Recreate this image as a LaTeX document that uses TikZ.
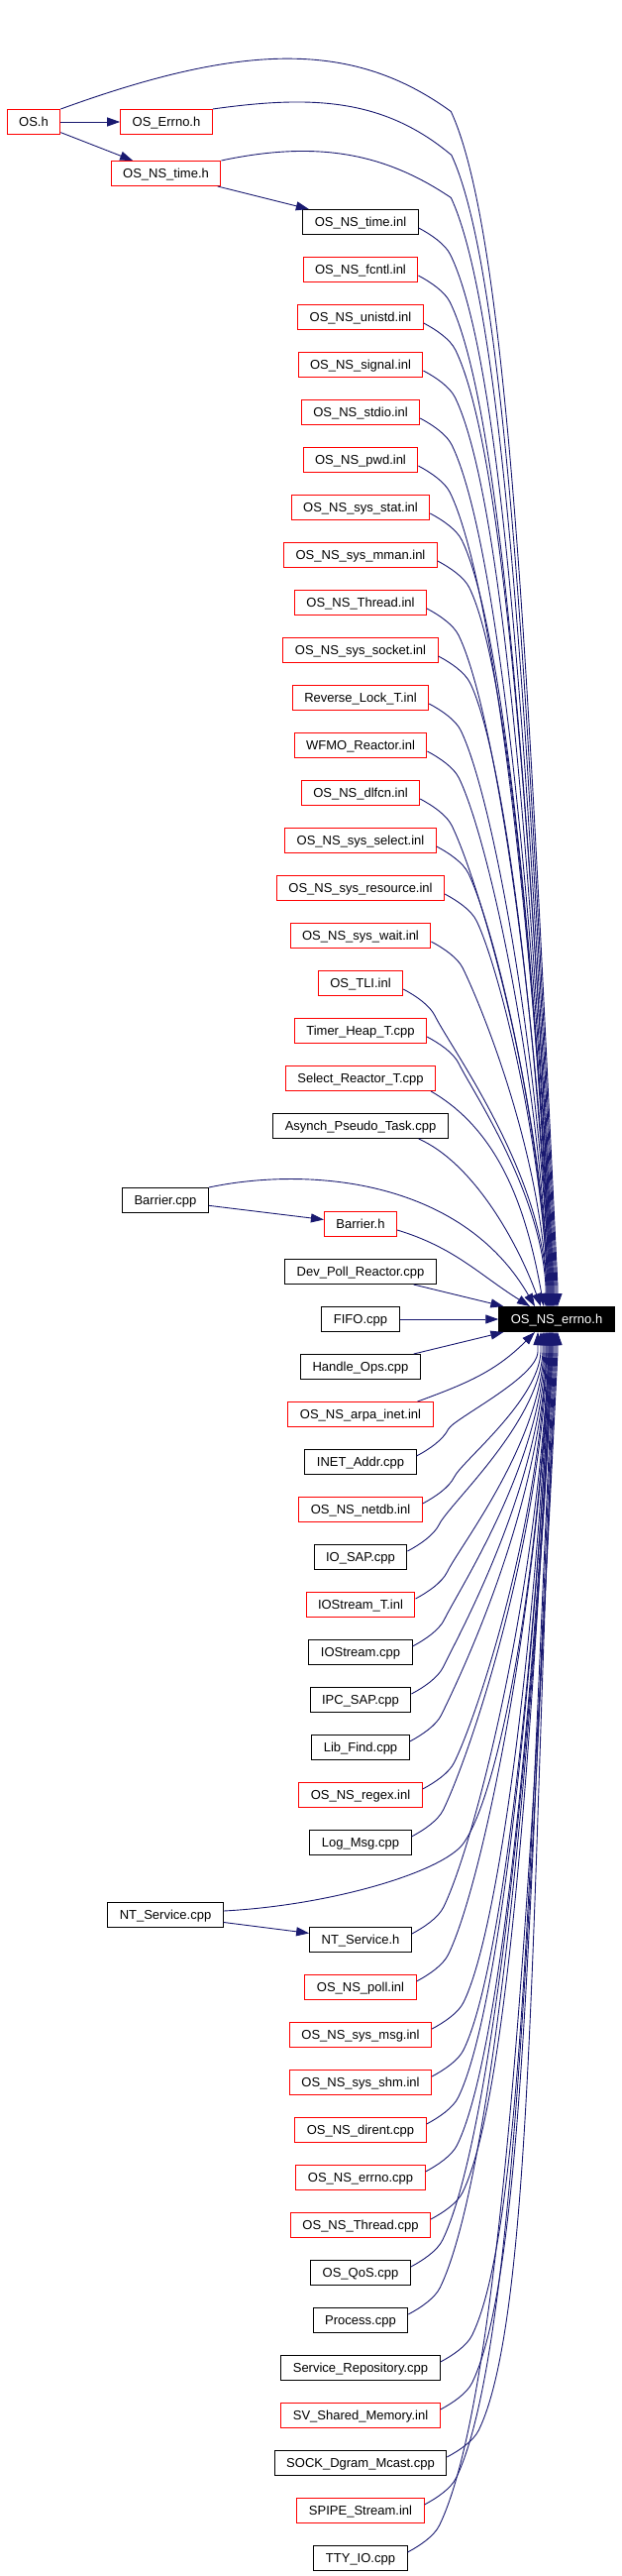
\documentclass[tikz,border=0pt]{standalone}
\usepackage{fontspec}
\setmainfont{Liberation Sans}
\usetikzlibrary{arrows.meta,calc}
\definecolor{midblue}{RGB}{25,25,112}

\begin{document}
\begin{tikzpicture}
[x=1pt,y=-1pt,
file/.style={rectangle,draw=black,line width=1pt,minimum height=25pt,inner xsep=12pt,inner ysep=0pt,
  text height=9.4pt,text depth=0pt,font=\fontsize{13pt}{15pt}\selectfont},
bad/.style={file,draw=red},
dep/.style={draw=midblue,line width=0.9pt,-{Triangle[length=13pt,width=9pt]}},
kneedn/.style={out=-28,in=116,out distance=14pt,in distance=12pt},
kneeup/.style={out=28,in=-116,out distance=14pt,in distance=12pt}]
\useasboundingbox (0,0) rectangle (627,2599);

% including files
\node[bad] (osh) at (34,123) {OS.h};
\node[bad] (oserrno) at (168,123) {OS\_Errno.h};
\node[bad] (nstimeh) at (167.5,175) {OS\_NS\_time.h};
\node[file] (nstimeinl) at (364,224) {OS\_NS\_time.inl};
\node[bad] (fcntl) at (364,272) {OS\_NS\_fcntl.inl};
\node[bad] (unistd) at (364,320) {OS\_NS\_unistd.inl};
\node[bad] (signal) at (364,368) {OS\_NS\_signal.inl};
\node[bad] (stdio) at (364,416) {OS\_NS\_stdio.inl};
\node[bad] (pwd) at (364,464) {OS\_NS\_pwd.inl};
\node[bad] (sysstat) at (364,512) {OS\_NS\_sys\_stat.inl};
\node[bad] (sysmman) at (364,560) {OS\_NS\_sys\_mman.inl};
\node[bad] (threadinl) at (364,608) {OS\_NS\_Thread.inl};
\node[bad] (syssocket) at (364,656) {OS\_NS\_sys\_socket.inl};
\node[bad] (reverselock) at (364,704) {Reverse\_Lock\_T.inl};
\node[bad] (wfmo) at (364,752) {WFMO\_Reactor.inl};
\node[bad] (dlfcn) at (364,800) {OS\_NS\_dlfcn.inl};
\node[bad] (sysselect) at (364,848) {OS\_NS\_sys\_select.inl};
\node[bad] (sysresource) at (364,896) {OS\_NS\_sys\_resource.inl};
\node[bad] (syswait) at (364,944) {OS\_NS\_sys\_wait.inl};
\node[bad] (tli) at (364,992) {OS\_TLI.inl};
\node[bad] (timerheap) at (364,1040) {Timer\_Heap\_T.cpp};
\node[bad] (selectreactor) at (364,1088) {Select\_Reactor\_T.cpp};
\node[file] (asynch) at (364,1136) {Asynch\_Pseudo\_Task.cpp};
\node[file] (barriercpp) at (167,1211) {Barrier.cpp};
\node[bad] (barrierh) at (364,1235) {Barrier.h};
\node[file] (devpoll) at (364,1283) {Dev\_Poll\_Reactor.cpp};
\node[file] (fifo) at (364,1331) {FIFO.cpp};
\node[file] (handleops) at (364,1379) {Handle\_Ops.cpp};
\node[bad] (arpainet) at (364,1427) {OS\_NS\_arpa\_inet.inl};
\node[file] (inetaddr) at (364,1475) {INET\_Addr.cpp};
\node[bad] (netdb) at (364,1523) {OS\_NS\_netdb.inl};
\node[file] (iosap) at (364,1571) {IO\_SAP.cpp};
\node[bad] (iostreamt) at (364,1619) {IOStream\_T.inl};
\node[file] (iostream) at (364,1667) {IOStream.cpp};
\node[file] (ipcsap) at (364,1715) {IPC\_SAP.cpp};
\node[file] (libfind) at (364,1763) {Lib\_Find.cpp};
\node[bad] (regex) at (364,1811) {OS\_NS\_regex.inl};
\node[file] (logmsg) at (364,1859) {Log\_Msg.cpp};
\node[file] (ntcpp) at (167,1932) {NT\_Service.cpp};
\node[file] (nth) at (364,1957) {NT\_Service.h};
\node[bad] (poll) at (364,2005) {OS\_NS\_poll.inl};
\node[bad] (sysmsg) at (364,2053) {OS\_NS\_sys\_msg.inl};
\node[bad] (sysshm) at (364,2101) {OS\_NS\_sys\_shm.inl};
\node[bad] (dirent) at (364,2149) {OS\_NS\_dirent.cpp};
\node[bad] (errnocpp) at (364,2197) {OS\_NS\_errno.cpp};
\node[bad] (threadcpp) at (364,2245) {OS\_NS\_Thread.cpp};
\node[file] (qos) at (364,2293) {OS\_QoS.cpp};
\node[file] (process) at (364,2341) {Process.cpp};
\node[file] (servicerepo) at (364,2389) {Service\_Repository.cpp};
\node[bad] (svshm) at (364,2437) {SV\_Shared\_Memory.inl};
\node[file] (sockdgram) at (364,2485) {SOCK\_Dgram\_Mcast.cpp};
\node[bad] (spipe) at (364,2533) {SPIPE\_Stream.inl};
\node[file] (ttyio) at (364,2581) {TTY\_IO.cpp};

% the included header
\node[file,fill=black,text=white] (errno) at (562,1331) {OS\_NS\_errno.h};

% short links
\draw[dep] (osh) -- (oserrno);
\draw[dep] (osh) -- (nstimeh);
\draw[dep] (nstimeh) -- (nstimeinl);
\draw[dep] (barriercpp) -- (barrierh);
\draw[dep] (ntcpp) -- (nth);
\draw[dep] (devpoll) -- (errno);
\draw[dep] (fifo) -- (errno);
\draw[dep] (handleops) -- (errno);

% from the top
\draw[dep] (osh.north east) .. controls +(188,-68.4) and ($(osh.north east)+(296.9,-68)$)
  .. ($(osh.north east)+(394,2.5)$) .. controls +(61.3,131.4) and ($(errno.north)+(-26,-569)$)
  .. ($(errno.north)+(1,-20)$) -- ($(errno.north)+(1,0)$);
\draw[dep] (oserrno.north east) .. controls +(99,-13.9) and ($(oserrno.north east)+(172.1,-11.4)$)
  .. ($(oserrno.north east)+(241,46.5)$) .. controls +(58.8,125.9) and ($(errno.north)+(-26,-546)$)
  .. ($(errno.north)+(0,-20)$) -- ($(errno.north)+(0,0)$);
\draw[dep] (nstimeh.north east) .. controls +(97.8,-20.8) and ($(nstimeh.north east)+(165.7,-7.2)$)
  .. ($(nstimeh.north east)+(232,37.5)$) .. controls +(56.7,121.4) and ($(errno.north)+(-26,-526)$)
  .. ($(errno.north)+(-1,-20)$) -- ($(errno.north)+(-1,0)$);
\foreach \s/\e/\y in {nstimeinl/-2/224,fcntl/-3/272,unistd/-3/320,signal/-4/368,stdio/-4/416,
  pwd/-5/464,sysstat/-5/512,sysmman/-6/560,threadinl/-6/608,syssocket/-7/656,reverselock/-7/704,
  wfmo/-8/752,dlfcn/-8/800,sysselect/-9/848,sysresource/-9/896,syswait/-10/944,tli/-10/992,
  timerheap/-11/1040}{
  \pgfmathsetmacro\dout{0.12*(1286-\y)}
  \pgfmathsetmacro\din{0.47*(1286-\y)-20}
  \draw[dep] ([yshift=-6pt]\s.east) to[kneedn] ++(32,27)
    .. controls +({0.438*\dout},{0.899*\dout}) and ($(errno.north)+({\e-0.05*\din},{-20-\din})$)
    .. ($(errno.north)+(\e,-20)$) -- ($(errno.north)+(\e,0)$);
}
\draw[dep] ($(selectreactor.south east)+(-5,0)$) .. controls +(69.3,40) and ($(errno.north)+(-30.4,-98.5)$)
  .. ($(errno.north)+(-13,0)$);
\draw[dep] ($(asynch.south east)+(-30,0)$) .. controls +(54.8,24.4) and ($(errno.north)+(-39.9,-65.8)$)
  .. ($(errno.north)+(-16,0)$);
\draw[dep] (barriercpp.north east) .. controls +(97.8,-20.8) and ($(errno.north)+(-97,-130)$)
  .. ($(errno.north)+(-22,0)$);
\draw[dep] ([yshift=-6pt]barrierh.east) .. controls +(58.3,17.8) and ($(errno.north)+(-78.7,-32.3)$)
  .. ($(errno.north)+(-27,0)$);

% from below
\draw[dep] ($(arpainet.north east)+(-16,0)$) .. controls +(51.7,-18.8) and ($(errno.south)+(-60.9,38.9)$)
  .. ($(errno.south)+(-22,0)$);
\foreach \s/\e/\y in {inetaddr/-19/1475,netdb/-16/1523,iosap/-14/1571,iostreamt/-13/1619,
  iostream/-12/1667,ipcsap/-11/1715,libfind/-10/1763,regex/-10/1811,logmsg/-9/1859,nth/-8/1957,
  poll/-7/2005,sysmsg/-7/2053,sysshm/-6/2101,dirent/-6/2149,errnocpp/-5/2197,threadcpp/-5/2245,
  qos/-4/2293,process/-4/2341,servicerepo/-3/2389,svshm/-2/2437,sockdgram/-1/2485,spipe/0/2533,
  ttyio/1/2581}{
  \pgfmathsetmacro\dout{0.12*(\y-1376)}
  \pgfmathsetmacro\din{0.47*(\y-1376)-20}
  \draw[dep] ([yshift=6pt]\s.east) to[kneeup] ++(32,-27)
    .. controls +({0.438*\dout},{-0.899*\dout}) and ($(errno.south)+({\e-0.05*\din},{20+\din})$)
    .. ($(errno.south)+(\e,20)$) -- ($(errno.south)+(\e,0)$);
}
\draw[dep] ([yshift=4pt]ntcpp.east) .. controls +(109.8,-5.8) and ($(ntcpp.east)+(221.4,-43.7)$)
  .. ($(ntcpp.east)+(242,-72)$) .. controls +(37,-51) and ($(errno.south)+(-18.3,246)$)
  .. ($(errno.south)+(-8,20)$) -- ($(errno.south)+(-8,0)$);
\end{tikzpicture}
\end{document}
